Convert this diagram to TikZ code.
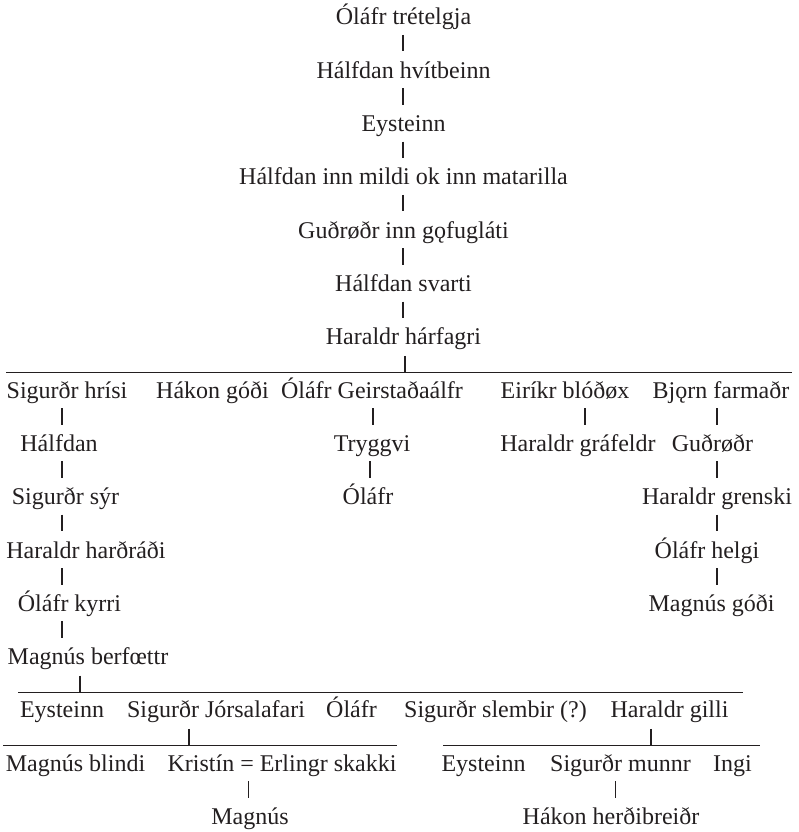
\documentclass[tikz,border=0pt]{standalone}
\usepackage{fontspec}
\setmainfont{Liberation Serif}
\usetikzlibrary{calc}
\definecolor{ink}{RGB}{35,31,32}
\newcommand\kbar[3]{\draw[vbar] ($(#1.base -| #3)+(0,10)$) -- ($(#2.base -| #3)+(0,-26.8)$);}
\newcommand\kbus[4]{%
  \draw[hrule] ($(#1.base -| #3)+(0,27.5)$) -- ($(#1.base -| #4)+(0,27.5)$);
  \draw[vbar] ($(#1.base -| #2)+(0,11)$) -- ($(#1.base -| #2)+(0,27.5)$);}
\begin{document}
\begin{tikzpicture}[x=1pt,y=-1pt,
  nm/.style={anchor=base,inner sep=0pt,text=ink,font=\fontsize{24}{28}\selectfont},
  vbar/.style={draw=ink,line width=1.3pt},
  hrule/.style={draw=ink,line width=1.2pt}]
\useasboundingbox (0,0) rectangle (799,832);
% x positions of bars and rule ends
\coordinate (v403) at (403,0);
\coordinate (v405) at (405,0);
\coordinate (v62) at (62,0);
\coordinate (v373) at (373,0);
\coordinate (v370) at (370,0);
\coordinate (v585) at (585,0);
\coordinate (v717) at (717,0);
\coordinate (v80) at (80,0);
\coordinate (v189) at (189,0);
\coordinate (v651) at (651,0);
\coordinate (v248) at (248.5,0);
\coordinate (v615) at (615.5,0);
\coordinate (h6) at (6,0);
\coordinate (h792) at (792,0);
\coordinate (h18) at (18,0);
\coordinate (h743) at (743,0);
\coordinate (h3) at (3,0);
\coordinate (h397) at (397,0);
\coordinate (h443) at (443,0);
\coordinate (h760) at (760,0);
% names
\node[nm] (g0) at (403.5,25) {Óláfr trételgja};
\node[nm] (g1) at (403.5,78.3) {Hálfdan hvítbeinn};
\node[nm] (g2) at (403.5,131.6) {Eysteinn};
\node[nm] (g3) at (403.5,184.9) {Hálfdan inn mildi ok inn matarilla};
\node[nm] (g4) at (403.5,238.2) {Guðrøðr inn gǫfugláti};
\node[nm] (g5) at (403.5,291.5) {Hálfdan svarti};
\node[nm] (g6) at (403.5,344.8) {Haraldr hárfagri};
\node[nm] (sh) at (67,398.1) {Sigurðr hrísi};
\node[nm] (hg) at (212.5,398.1) {Hákon góði};
\node[nm] (og) at (372,398.1) {Óláfr Geirstaðaálfr};
\node[nm] (eb) at (565,398.1) {Eiríkr blóðøx};
\node[nm] (bf) at (721,398.1) {Bjǫrn farmaðr};
\node[nm] (h8) at (59,451.4) {Hálfdan};
\node[nm] (tr) at (372,451.4) {Tryggvi};
\node[nm] (hgr) at (578,451.4) {Haraldr gráfeldr};
\node[nm] (gu) at (712.5,451.4) {Guðrøðr};
\node[nm] (ss) at (65.5,504.7) {Sigurðr sýr};
\node[nm] (ot) at (368,504.7) {Óláfr};
\node[nm] (hgre) at (717,504.7) {Haraldr grenski};
\node[nm] (hh) at (86,558) {Haraldr harðráði};
\node[nm] (oh) at (707,558) {Óláfr helgi};
\node[nm] (ok) at (69.5,611.3) {Óláfr kyrri};
\node[nm] (mg) at (711.5,611.3) {Magnús góði};
\node[nm] (mb) at (88,664.6) {Magnús berfœttr};
\node[nm] (e13) at (62,717.9) {Eysteinn};
\node[nm] (sj) at (216,717.9) {Sigurðr Jórsalafari};
\node[nm] (o13) at (351.5,717.9) {Óláfr};
\node[nm] (ssl) at (495.5,717.9) {Sigurðr slembir (?)};
\node[nm] (hgi) at (669.5,717.9) {Haraldr gilli};
\node[nm] (mbl) at (75.5,771.2) {Magnús blindi};
\node[nm] (ke) at (282,771.2) {Kristín = Erlingr skakki};
\node[nm] (e14) at (483.5,771.2) {Eysteinn};
\node[nm] (smu) at (620.5,771.2) {Sigurðr munnr};
\node[nm] (ing) at (732.5,771.2) {Ingi};
\node[nm] (mag) at (250,824.5) {Magnús};
\node[nm] (hhb) at (611,824.5) {Hákon herðibreiðr};
% connectors
\kbar{g0}{g1}{v403}
\kbar{g1}{g2}{v403}
\kbar{g2}{g3}{v403}
\kbar{g3}{g4}{v403}
\kbar{g4}{g5}{v403}
\kbar{g5}{g6}{v403}
\kbus{g6}{v405}{h6}{h792}
\kbar{sh}{h8}{v62}
\kbar{h8}{ss}{v62}
\kbar{ss}{hh}{v62}
\kbar{hh}{ok}{v62}
\kbar{ok}{mb}{v62}
\kbar{og}{tr}{v373}
\kbar{tr}{ot}{v370}
\kbar{eb}{hgr}{v585}
\kbar{bf}{gu}{v717}
\kbar{gu}{hgre}{v717}
\kbar{hgre}{oh}{v717}
\kbar{oh}{mg}{v717}
\kbus{mb}{v80}{h18}{h743}
\kbus{sj}{v189}{h3}{h397}
\kbus{hgi}{v651}{h443}{h760}
\kbar{ke}{mag}{v248}
\kbar{smu}{hhb}{v615}
\end{tikzpicture}
\end{document}
